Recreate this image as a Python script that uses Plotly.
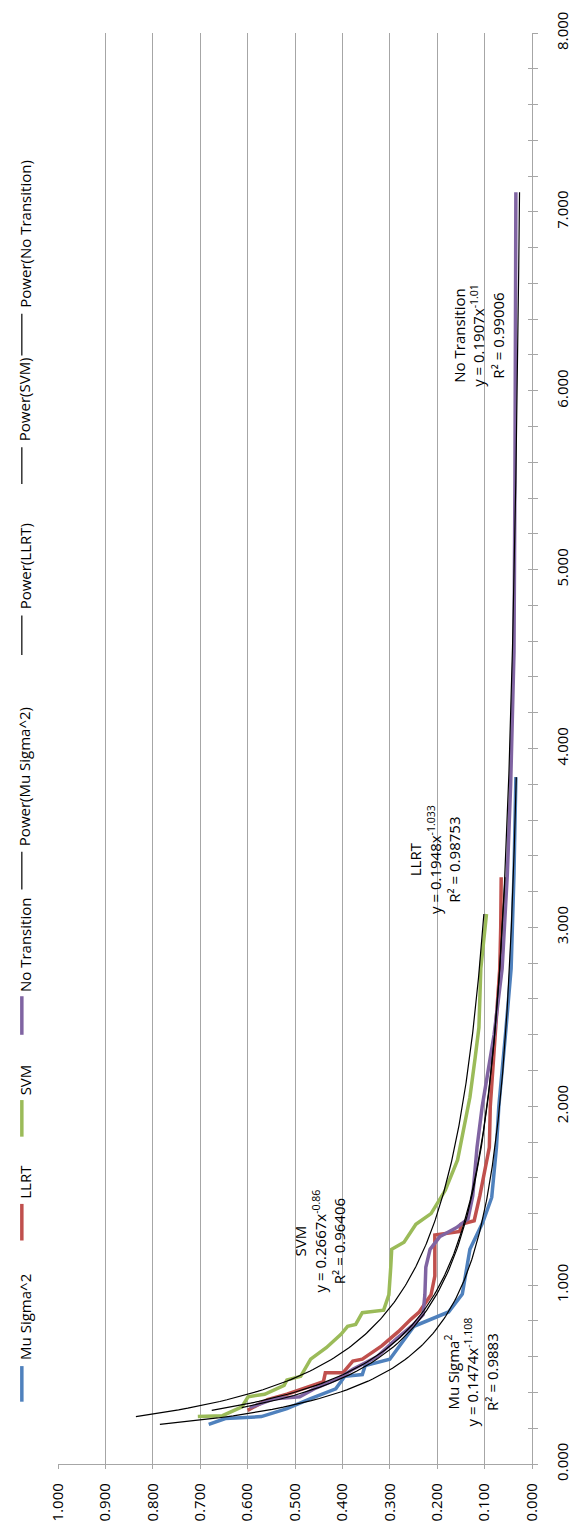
import numpy as np
import plotly.graph_objects as go

# ---- series data: x = time value (0..8), y = error value (0..1) ----
series_names = ["Mu Sigma^2", "LLRT", "SVM", "No Transition"]
series_colors = ["#4F81BD", "#C0504D", "#9BBB59", "#8064A2"]

mu_x = [0.221, 0.254, 0.265, 0.31, 0.365, 0.42, 0.49, 0.50, 0.55, 0.586, 0.77, 0.82, 0.85, 0.95,
        1.20, 1.35, 1.49, 1.77, 2.00, 2.40, 2.77, 3.30, 3.84]
mu_y = [0.682, 0.647, 0.571, 0.517, 0.467, 0.414, 0.395, 0.358, 0.352, 0.300, 0.249, 0.203, 0.176, 0.147,
        0.131, 0.104, 0.085, 0.075, 0.070, 0.056, 0.044, 0.038, 0.034]

llrt_x = [0.30, 0.36, 0.39, 0.43, 0.46, 0.51, 0.51, 0.575, 0.586, 0.66, 0.74, 0.81, 0.85, 0.946,
          1.05, 1.28, 1.30, 1.34, 1.36, 1.50, 1.77, 2.00, 2.30, 2.77, 3.00, 3.28]
llrt_y = [0.600, 0.558, 0.517, 0.475, 0.440, 0.436, 0.399, 0.378, 0.358, 0.317, 0.282, 0.255, 0.238, 0.213,
          0.205, 0.205, 0.152, 0.150, 0.122, 0.110, 0.090, 0.088, 0.080, 0.068, 0.066, 0.065]

svm_x = [0.265, 0.27, 0.32, 0.376, 0.39, 0.44, 0.47, 0.49, 0.586, 0.65, 0.725, 0.77, 0.78, 0.846, 0.86, 0.946,
         1.10, 1.20, 1.24, 1.30, 1.34, 1.40, 1.53, 1.70, 1.83, 2.05, 2.27, 2.44, 2.77, 3.075]
svm_y = [0.705, 0.653, 0.612, 0.599, 0.564, 0.523, 0.517, 0.488, 0.467, 0.434, 0.403, 0.389, 0.372, 0.358, 0.313, 0.302,
         0.298, 0.296, 0.270, 0.255, 0.245, 0.213, 0.183, 0.157, 0.148, 0.131, 0.120, 0.112, 0.108, 0.096]

nt_x = [0.315, 0.365, 0.376, 0.42, 0.475, 0.53, 0.60, 0.70, 0.78, 0.835, 0.946, 1.10, 1.20, 1.27, 1.32, 1.37,
        1.50, 1.77, 2.00, 2.40, 2.77, 3.30, 3.80, 4.54, 5.50, 6.30, 7.11]
nt_y = [0.595, 0.543, 0.490, 0.460, 0.410, 0.378, 0.327, 0.286, 0.250, 0.230, 0.226, 0.224, 0.215, 0.195, 0.160, 0.135,
        0.125, 0.116, 0.105, 0.080, 0.063, 0.052, 0.045, 0.038, 0.036, 0.035, 0.034]

# power-law trendlines y = a * x^b as printed on the chart
fit_a = [0.1474, 0.1948, 0.2667, 0.1907]
fit_b = [-1.108, -1.033, -0.86, -1.01]
fit_r2 = ["0.9883", "0.98753", "0.96406", "0.99006"]
fit_titles = ["Mu Sigma<sup>2</sup>", "LLRT", "SVM", "No Transition"]

x_ticks = list(range(9))
y_ticks = [i / 10 for i in range(11)]

series_x = [mu_x, llrt_x, svm_x, nt_x]
series_y = [mu_y, llrt_y, svm_y, nt_y]

FONT = "Open Sans"
FS = 15
GRID = "#A6A6A6"
W, H = 584, 1533
L, R, T, B = 58, 41, 24, 62
PW, PH = W - L - R, H - T - B


def px(xpix):
    return (xpix - L) / PW


def py(ypix):
    return (H - B - ypix) / PH


fig = go.Figure()

# the chart is laid on its side: value (y) runs along the horizontal axis,
# time (x) runs up the vertical axis
for xs, ys, c in zip(series_x, series_y, series_colors):
    fig.add_trace(go.Scatter(x=ys, y=xs, mode="lines",
                             line=dict(color=c, width=3.5), hoverinfo="skip"))

for xs, a, b in zip(series_x, fit_a, fit_b):
    t = np.linspace(min(xs), max(xs), 300)
    fig.add_trace(go.Scatter(x=a * t ** b, y=t, mode="lines",
                             line=dict(color="black", width=1.2), hoverinfo="skip"))

# empty trace carrying the inner half of the crossing tick marks
fig.add_trace(go.Scatter(x=[None], y=[None], yaxis="y2", hoverinfo="skip"))

annotations = []
shapes = []

# rotated legend along the left edge
legend_items = [
    ("Mu Sigma^2", series_colors[0], 3.5, 1408, 1372, 1368),
    ("LLRT", series_colors[1], 3.5, 1245, 1208, 1205),
    ("SVM", series_colors[2], 3.5, 1140, 1103, 1100),
    ("No Transition", series_colors[3], 3.5, 1037, 998, 996),
    ("Power(Mu Sigma^2)", "black", 1.2, 890, 852, 848),
    ("Power(LLRT)", "black", 1.2, 653, 613, 609),
    ("Power(SVM)", "black", 1.2, 480, 443, 439),
    ("Power(No Transition)", "black", 1.2, 350, 308, 304),
]
for name, col, lw, y0, y1, ty in legend_items:
    shapes.append(dict(type="line", xref="paper", yref="paper",
                       x0=px(21), x1=px(21), y0=py(y0), y1=py(y1),
                       line=dict(color=col, width=lw)))
    annotations.append(dict(text=name, xref="paper", yref="paper",
                            x=px(24), y=py(ty), xanchor="center", yanchor="bottom",
                            textangle=-90, showarrow=False,
                            font=dict(family=FONT, size=FS, color="black")))

# trendline equation labels
label_pos = [(481, 1378), (444, 860), (326, 1245), (488, 330)]
for title, a, b, r2, (lx, ly) in zip(fit_titles, fit_a, fit_b, fit_r2, label_pos):
    txt = f"{title}<br>y = {a}x<sup>{b}</sup><br>R² = {r2}"
    annotations.append(dict(text=txt, xref="paper", yref="paper",
                            x=px(lx), y=py(ly), xanchor="center", yanchor="middle",
                            textangle=-90, showarrow=False, align="center",
                            font=dict(family=FONT, size=FS, color="black")))

fig.update_layout(
    width=W, height=H,
    margin=dict(l=L, r=R, t=T, b=B),
    paper_bgcolor="white", plot_bgcolor="white",
    showlegend=False,
    annotations=annotations, shapes=shapes,
    xaxis=dict(range=[1, 0], tickvals=y_ticks, tickformat=".3f",
               tickangle=-90, showgrid=True, gridcolor=GRID, gridwidth=1.3,
               zeroline=False, showline=True, linecolor=GRID, linewidth=1.3,
               ticks="outside", ticklen=4, tickcolor=GRID, ticklabelstandoff=8,
               tickfont=dict(family=FONT, size=FS, color="black")),
    yaxis=dict(range=[0, 8], side="right", tickvals=x_ticks, tickformat=".3f",
               tickangle=-90, showgrid=False, zeroline=False,
               showline=True, linecolor=GRID, linewidth=1.3,
               ticks="outside", ticklen=5, tickcolor=GRID, ticklabelstandoff=12,
               minor=dict(dtick=0.2, ticks="outside", ticklen=5, tickcolor=GRID),
               tickfont=dict(family=FONT, size=FS, color="black")),
    yaxis2=dict(range=[0, 8], side="right", overlaying="y", tickvals=x_ticks,
                showticklabels=False, showgrid=False, zeroline=False, showline=False,
                ticks="inside", ticklen=4, tickcolor=GRID,
                minor=dict(dtick=0.2, ticks="inside", ticklen=4, tickcolor=GRID)),
)

fig.write_html("out.html")
